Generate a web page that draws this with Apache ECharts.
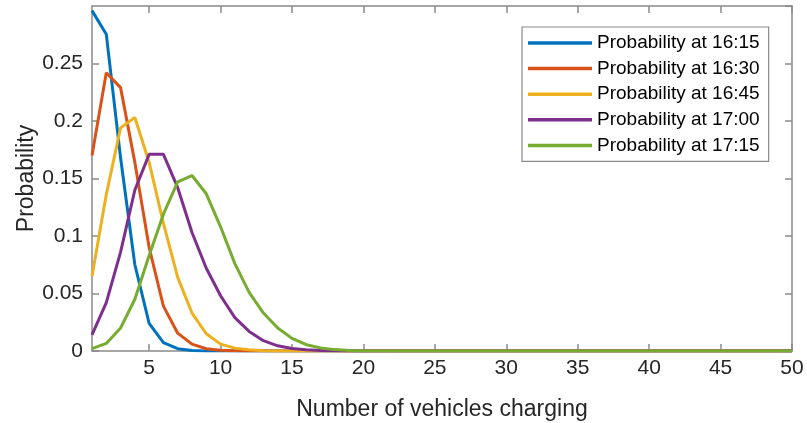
<!DOCTYPE html>
<html>
<head>
<meta charset="utf-8">
<script src="https://cdn.jsdelivr.net/npm/echarts/dist/echarts.min.js"></script>
<style>
  html, body { margin: 0; padding: 0; background: #ffffff; }
  #chart { width: 807px; height: 423px; }
</style>
</head>
<body>
<div id="chart"></div>
<script>
// Number of vehicles charging (x values)
const vehicleCounts = [
  1, 2, 3, 4, 5, 6, 7, 8, 9, 10,
  11, 12, 13, 14, 15, 16, 17, 18, 19, 20,
  21, 22, 23, 24, 25, 26, 27, 28, 29, 30,
  31, 32, 33, 34, 35, 36, 37, 38, 39, 40,
  41, 42, 43, 44, 45, 46, 47, 48, 49, 50
];
const xTickValues = [5, 10, 15, 20, 25, 30, 35, 40, 45, 50];

const seriesNames = [
  'Probability at 16:15',
  'Probability at 16:30',
  'Probability at 16:45',
  'Probability at 17:00',
  'Probability at 17:15'
];

const prob1615 = [
  0.296, 0.2755, 0.168, 0.075, 0.024, 0.0072, 0.002, 0.0005, 0.0001, 0,
  0, 0, 0, 0, 0, 0, 0, 0, 0, 0,
  0, 0, 0, 0, 0, 0, 0, 0, 0, 0,
  0, 0, 0, 0, 0, 0, 0, 0, 0, 0,
  0, 0, 0, 0, 0, 0, 0, 0, 0, 0
];
const prob1630 = [
  0.170, 0.242, 0.229, 0.164, 0.090, 0.039, 0.0155, 0.006, 0.002, 0.0006,
  0.0002, 0, 0, 0, 0, 0, 0, 0, 0, 0,
  0, 0, 0, 0, 0, 0, 0, 0, 0, 0,
  0, 0, 0, 0, 0, 0, 0, 0, 0, 0,
  0, 0, 0, 0, 0, 0, 0, 0, 0, 0
];
const prob1645 = [
  0.065, 0.136, 0.194, 0.203, 0.164, 0.111, 0.064, 0.033, 0.015, 0.006,
  0.0025, 0.001, 0.0003, 0.0001, 0, 0, 0, 0, 0, 0,
  0, 0, 0, 0, 0, 0, 0, 0, 0, 0,
  0, 0, 0, 0, 0, 0, 0, 0, 0, 0,
  0, 0, 0, 0, 0, 0, 0, 0, 0, 0
];
const prob1700 = [
  0.014, 0.042, 0.086, 0.140, 0.171, 0.171, 0.142, 0.103, 0.072, 0.048,
  0.029, 0.017, 0.009, 0.0045, 0.0022, 0.001, 0.0004, 0.0002, 0.0001, 0,
  0, 0, 0, 0, 0, 0, 0, 0, 0, 0,
  0, 0, 0, 0, 0, 0, 0, 0, 0, 0,
  0, 0, 0, 0, 0, 0, 0, 0, 0, 0
];
const prob1715 = [
  0.002, 0.0066, 0.020, 0.045, 0.083, 0.119, 0.147, 0.1526, 0.1367, 0.108,
  0.076, 0.051, 0.033, 0.020, 0.011, 0.0055, 0.0027, 0.0012, 0.0005, 0.0002,
  0.0001, 0, 0, 0, 0, 0, 0, 0, 0, 0,
  0, 0, 0, 0, 0, 0, 0, 0, 0, 0,
  0, 0, 0, 0, 0, 0, 0, 0, 0, 0
];

const seriesValues = [prob1615, prob1630, prob1645, prob1700, prob1715];
const lineColors = ['#0072BD', '#D95319', '#EDB120', '#7E2F8E', '#77AC30'];

const FONT = '"Liberation Sans", Arial, Helvetica, sans-serif';
const AXIS_COLOR = '#8a8a8a';
const TEXT_COLOR = '#262626';

const chart = echarts.init(document.getElementById('chart'), null, { renderer: 'canvas' });

const frameLine = { show: true, onZero: false, lineStyle: { color: AXIS_COLOR, width: 1.5 } };
const innerTick = { show: true, inside: true, length: 7, lineStyle: { color: AXIS_COLOR, width: 1.5 } };

chart.setOption({
  animation: false,
  backgroundColor: '#ffffff',
  textStyle: { fontFamily: FONT },
  grid: { left: 92, right: 15, top: 6, bottom: 72, containLabel: false, outerBoundsMode: 'none' },
  legend: {
    orient: 'vertical',
    left: 522,
    top: 27,
    padding: [6, 9, 6, 6],
    itemWidth: 64,
    itemHeight: 3.5,
    itemGap: 5.6,
    icon: 'rect',
    backgroundColor: '#ffffff',
    borderColor: AXIS_COLOR,
    borderWidth: 1.2,
    borderRadius: 0,
    textStyle: { fontFamily: FONT, fontSize: 19, color: '#000000', lineHeight: 20 },
    data: seriesNames
  },
  xAxis: [
    {
      type: 'value',
      position: 'bottom',
      min: 1,
      max: 50,
      name: 'Number of vehicles charging',
      nameLocation: 'middle',
      nameGap: 47,
      nameMoveOverlap: false,
      nameTextStyle: { fontFamily: FONT, fontSize: 23, color: TEXT_COLOR },
      axisLine: frameLine,
      axisTick: Object.assign({}, innerTick, { customValues: xTickValues }),
      axisLabel: { customValues: xTickValues, margin: 7, fontFamily: FONT, fontSize: 21, color: TEXT_COLOR },
      splitLine: { show: false }
    },
    {
      type: 'value',
      position: 'top',
      min: 1,
      max: 50,
      axisLine: frameLine,
      axisTick: Object.assign({}, innerTick, { customValues: xTickValues }),
      axisLabel: { show: false },
      splitLine: { show: false }
    }
  ],
  yAxis: [
    {
      type: 'value',
      position: 'left',
      min: 0,
      max: 0.3,
      interval: 0.05,
      name: 'Probability',
      nameLocation: 'middle',
      nameGap: 54,
      nameMoveOverlap: false,
      nameTextStyle: { fontFamily: FONT, fontSize: 23, color: TEXT_COLOR },
      axisLine: frameLine,
      axisTick: innerTick,
      axisLabel: { showMaxLabel: false, margin: 9, fontFamily: FONT, fontSize: 21, color: TEXT_COLOR },
      splitLine: { show: false }
    },
    {
      type: 'value',
      position: 'right',
      min: 0,
      max: 0.3,
      interval: 0.05,
      axisLine: frameLine,
      axisTick: innerTick,
      axisLabel: { show: false },
      splitLine: { show: false }
    }
  ],
  series: seriesValues.map((vals, i) => ({
    name: seriesNames[i],
    type: 'line',
    xAxisIndex: 0,
    yAxisIndex: 0,
    symbol: 'none',
    showSymbol: false,
    color: lineColors[i],
    lineStyle: { color: lineColors[i], width: 3 },
    data: vehicleCounts.map((n, k) => [n, vals[k]])
  }))
});
</script>
</body>
</html>
